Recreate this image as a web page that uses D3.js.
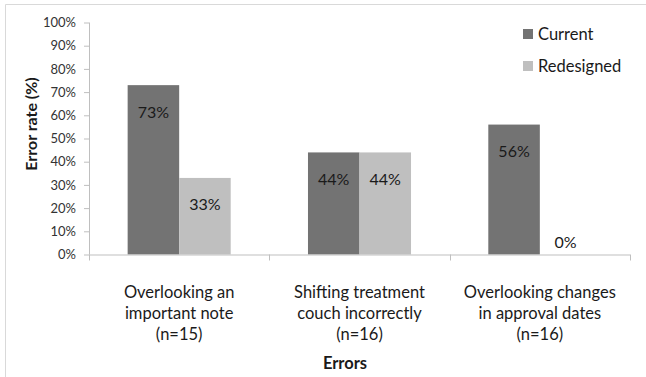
<!DOCTYPE html>
<html>
<head>
<meta charset="utf-8">
<script src="https://cdn.jsdelivr.net/npm/d3@7"></script>
<style>
  html, body { margin: 0; padding: 0; background: #fff; }
  svg { display: block; font-family: Lato, "Open Sans", sans-serif; }
</style>
</head>
<body>
<svg id="chart" width="646" height="377"></svg>
<script>
// Error categories, each with a wrapped label and its sample size
const categories = ["Overlooking an important note", "Shifting treatment couch incorrectly", "Overlooking changes in approval dates"];
const categoryLines = [
  ["Overlooking an", "important note", "(n=15)"],
  ["Shifting treatment", "couch incorrectly", "(n=16)"],
  ["Overlooking changes", "in approval dates", "(n=16)"]
];
const seriesNames = ["Current", "Redesigned"];
const currentValues = [73, 44, 56];
const redesignedValues = [33, 44, 0];
const yTicks = [0, 10, 20, 30, 40, 50, 60, 70, 80, 90, 100];

const colors = { Current: "#737373", Redesigned: "#bfbfbf" };
const svg = d3.select("#chart");

// frame edges
svg.append("line").attr("x1", 5.5).attr("x2", 646).attr("y1", 4.5).attr("y2", 4.5)
  .attr("stroke", "#d9d9d9");
svg.append("line").attr("x1", 5.5).attr("x2", 5.5).attr("y1", 4.5).attr("y2", 377)
  .attr("stroke", "#d9d9d9");

const plot = { left: 89, right: 630, top: 22.5, bottom: 254.5 };

const x = d3.scaleBand().domain(categories).range([plot.left, plot.right]).padding(0);
const y = d3.scaleLinear().domain([0, 100]).range([plot.bottom, plot.top]);

// bars: two per band, gap of 150% of a bar width
const barW = x.bandwidth() / 3.5;
const sub = d3.scaleBand().domain(seriesNames)
  .range([0.75 * barW, 0.75 * barW + 2 * barW]);

const rows = categories.map((c, i) => ({ cat: c, Current: currentValues[i], Redesigned: redesignedValues[i] }));

const groups = svg.append("g").selectAll("g").data(rows).join("g")
  .attr("transform", d => `translate(${x(d.cat)},0)`);

groups.selectAll("rect").data(d => seriesNames.map(s => ({ s, v: d[s] }))).join("rect")
  .attr("x", d => sub(d.s))
  .attr("width", sub.bandwidth())
  .attr("y", d => y(d.v))
  .attr("height", d => y(0) - y(d.v))
  .attr("fill", d => colors[d.s]);

groups.selectAll("text.val").data(d => seriesNames.map(s => ({ s, v: d[s] }))).join("text")
  .attr("class", "val")
  .attr("x", d => sub(d.s) + sub.bandwidth() / 2)
  .attr("y", d => d.v > 0 ? y(d.v) + 26 : y(d.v) - 13)
  .attr("text-anchor", "middle")
  .attr("dominant-baseline", "central")
  .attr("font-size", 16)
  .attr("fill", "#1a1a1a")
  .text(d => d.v + "%");

// y axis
const yAxis = svg.append("g").attr("transform", `translate(${plot.left},0)`)
  .call(d3.axisLeft(y).tickValues(yTicks).tickFormat(d => d + "%").tickSize(5).tickPadding(8));
yAxis.select(".domain").attr("stroke", "#bfbfbf").attr("d", `M0.5,${plot.top}V${plot.bottom}`);
yAxis.selectAll(".tick line").attr("stroke", "#bfbfbf");
yAxis.selectAll(".tick text").attr("font-size", 13).attr("fill", "#333")
  .attr("font-family", "Lato, sans-serif");

// x axis with boundary ticks
const xAxis = svg.append("g");
xAxis.append("line").attr("x1", plot.left).attr("x2", plot.right)
  .attr("y1", plot.bottom + 0.5).attr("y2", plot.bottom + 0.5).attr("stroke", "#bfbfbf");
const boundaries = categories.map(c => x(c) + x.bandwidth()).concat([plot.left]);
xAxis.selectAll("line.tk").data(boundaries).join("line").attr("class", "tk")
  .attr("x1", d => Math.round(d) + 0.5).attr("x2", d => Math.round(d) + 0.5)
  .attr("y1", plot.bottom).attr("y2", plot.bottom + 6).attr("stroke", "#bfbfbf");

svg.append("g").selectAll("text").data(categories).join("text")
  .attr("x", d => x(d) + x.bandwidth() / 2)
  .attr("y", 292)
  .attr("text-anchor", "middle")
  .attr("font-size", 16.5)
  .attr("fill", "#1a1a1a")
  .each(function (d, i) {
    d3.select(this).selectAll("tspan").data(categoryLines[i]).join("tspan")
      .attr("x", x(d) + x.bandwidth() / 2)
      .attr("dy", (t, j) => j === 0 ? "0.35em" : 21)
      .text(t => t);
  });

// axis titles
svg.append("text").attr("x", 345).attr("y", 363).attr("text-anchor", "middle")
  .attr("dominant-baseline", "central").attr("font-size", 16.5).attr("font-weight", "bold")
  .attr("fill", "#1a1a1a").text("Errors");
svg.append("text").attr("transform", "translate(30,124) rotate(-90)")
  .attr("text-anchor", "middle").attr("dominant-baseline", "central")
  .attr("font-size", 16).attr("font-weight", "bold").attr("fill", "#1a1a1a")
  .text("Error rate (%)");

// legend
const legend = svg.append("g").attr("transform", "translate(523,29)");
const li = legend.selectAll("g").data(seriesNames).join("g")
  .attr("transform", (d, i) => `translate(0,${i * 32})`);
li.append("rect").attr("width", 10).attr("height", 10).attr("fill", d => colors[d]);
li.append("text").attr("x", 15).attr("y", 5).attr("dominant-baseline", "central")
  .attr("font-size", 16.5).attr("fill", "#1a1a1a").text(d => d);
</script>
</body>
</html>
